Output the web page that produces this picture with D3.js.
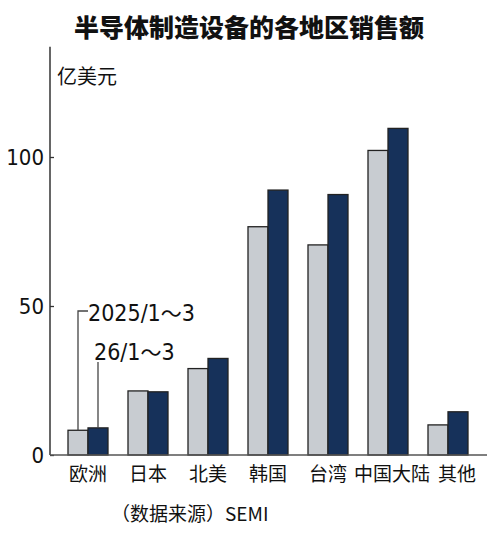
<!DOCTYPE html>
<html>
<head>
<meta charset="utf-8">
<script src="https://cdn.jsdelivr.net/npm/d3@7"></script>
<style>
  body { margin: 0; background: #fff; }
  svg text { fill: #111; }
</style>
</head>
<body>
<svg id="chart" width="500" height="534"></svg>
<script>
// data (100 million USD)
const regions = ["欧洲", "日本", "北美", "韩国", "台湾", "中国大陆", "其他"];
const q2025 = [8.3, 21.5, 29.0, 76.6, 70.5, 102.2, 10.1];
const q2026 = [9.1, 21.2, 32.4, 88.9, 87.4, 109.6, 14.5];
const seriesNames = [["2025/1", "～", "3"], ["26/1", "～", "3"]];
const yTicks = [0, 50, 100];

const cjk = "'Noto Sans CJK SC', sans-serif";
const narrow = "'Liberation Sans Narrow', 'DejaVu Sans Condensed', sans-serif";

const svg = d3.select("#chart");

const x = d3.scaleBand()
  .domain(regions)
  .range([48, 488])
  .paddingInner(1 / 3)
  .paddingOuter(1 / 3);

const xs = d3.scaleBand()
  .domain([0, 1])
  .range([0, x.bandwidth()]);

const y = d3.scaleLinear()
  .domain([0, 100])
  .range([455, 157]);

// title
svg.append("text")
  .attr("x", 249)
  .attr("y", 37)
  .attr("text-anchor", "middle")
  .style("font-family", cjk)
  .style("font-weight", "900")
  .style("font-size", "25px")
  .text("半导体制造设备的各地区销售额");

// unit
svg.append("text")
  .attr("x", 57)
  .attr("y", 84)
  .style("font-family", cjk)
  .style("font-size", "20px")
  .text("亿美元");

// y axis
const yAxis = svg.append("g")
  .attr("transform", "translate(50,0)")
  .call(d3.axisLeft(y).tickValues(yTicks).tickSizeInner(-4).tickSizeOuter(0).tickPadding(6));
yAxis.select(".domain").remove();
yAxis.selectAll(".tick line").attr("stroke", "#333").attr("stroke-width", 1.3);
yAxis.selectAll(".tick text")
  .style("font-family", narrow)
  .style("font-size", "22px")
  .attr("dy", "0.36em")
  .attr("fill", "#111");

svg.append("line")
  .attr("x1", 50).attr("x2", 50)
  .attr("y1", y(137)).attr("y2", y(0))
  .attr("stroke", "#333").attr("stroke-width", 1.5);

// bars
const groups = svg.append("g")
  .selectAll("g")
  .data(regions)
  .enter()
  .append("g")
  .attr("transform", d => `translate(${x(d)},0)`);

const colors = ["#c8ccd1", "#16315a"];
[q2025, q2026].forEach((vals, s) => {
  groups.append("rect")
    .attr("x", xs(s))
    .attr("width", xs.bandwidth())
    .attr("y", (d, i) => y(vals[i]))
    .attr("height", (d, i) => y(0) - y(vals[i]))
    .attr("fill", colors[s])
    .attr("stroke", "#222")
    .attr("stroke-width", 1.3);
});

// baseline
svg.append("line")
  .attr("x1", 50).attr("x2", 487)
  .attr("y1", y(0)).attr("y2", y(0))
  .attr("stroke", "#555").attr("stroke-width", 1.5);

// category labels (the long one pushes the last one a bit right)
svg.append("g")
  .selectAll("text")
  .data(regions)
  .enter()
  .append("text")
  .attr("x", d => x(d) + x.bandwidth() / 2)
  .attr("dx", (d, i) => i === regions.length - 1 ? 9 : (d.length > 2 ? 4 : 0))
  .attr("y", 481)
  .attr("text-anchor", "middle")
  .style("font-family", cjk)
  .style("font-size", "19px")
  .text(d => d);

// series callouts on the first group
const first = regions[0];
const cx0 = x(first) + xs(0) + xs.bandwidth() / 2;
const cx1 = x(first) + xs(1) + xs.bandwidth() / 2;

svg.append("path")
  .attr("d", `M${cx0},${y(q2025[0])}V311H88`)
  .attr("fill", "none").attr("stroke", "#444").attr("stroke-width", 1.3);
svg.append("path")
  .attr("d", `M${cx1},${y(q2026[0])}V362`)
  .attr("fill", "none").attr("stroke", "#444").attr("stroke-width", 1.3);

function callout(parts, px, py) {
  const t = svg.append("text")
    .attr("x", px).attr("y", py)
    .style("font-family", narrow)
    .style("font-size", "23px");
  t.append("tspan").text(parts[0]);
  t.append("tspan").style("font-family", cjk).style("font-size", "21px").text(parts[1]);
  t.append("tspan").text(parts[2]);
}
callout(seriesNames[0], 88, 321);
callout(seriesNames[1], 94, 360);

// source
svg.append("text")
  .attr("x", 111).attr("y", 521)
  .style("font-family", cjk)
  .style("font-size", "19px")
  .text("（数据来源）SEMI");
</script>
</body>
</html>
